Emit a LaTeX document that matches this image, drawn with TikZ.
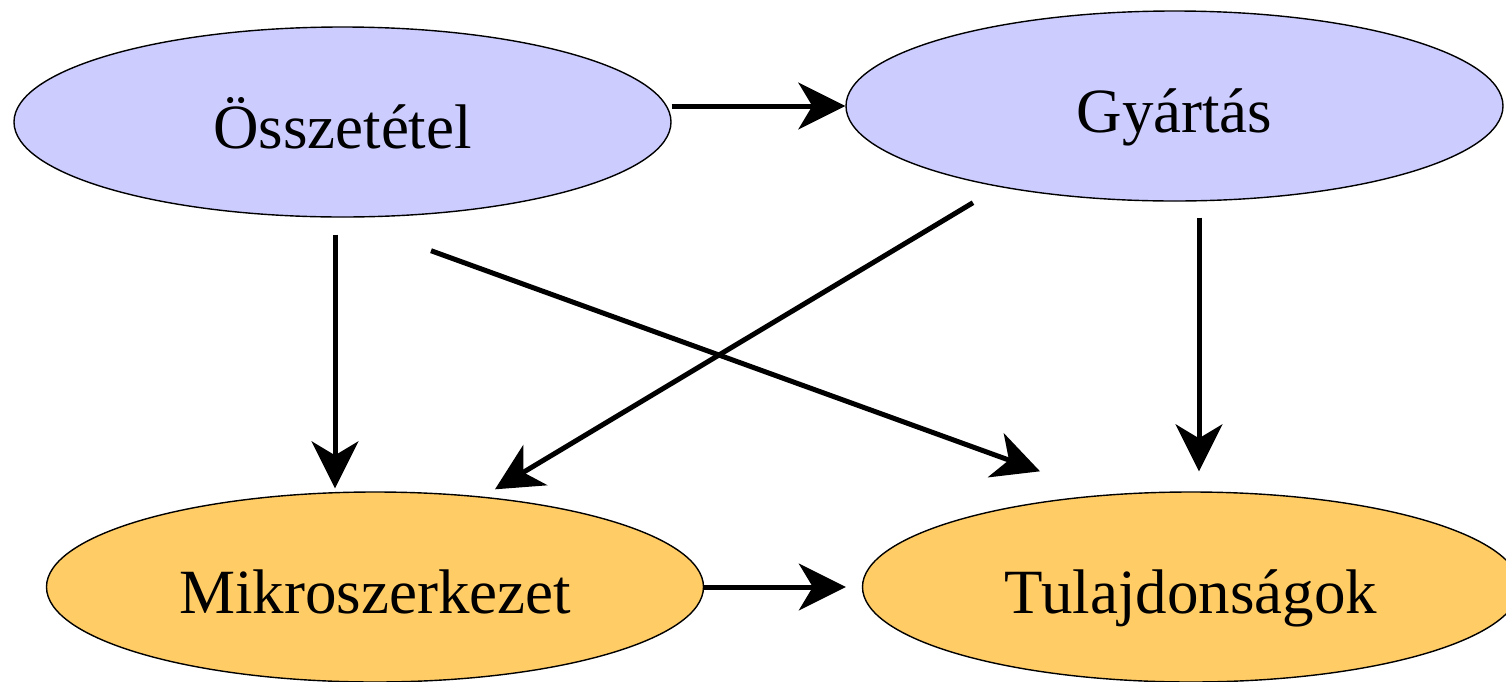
\documentclass[tikz,border=0pt]{standalone}
\usepackage{fontspec}
\setmainfont{Liberation Serif}
\usepackage{tikz}
\usetikzlibrary{arrows.meta,calc,shapes.geometric}
\definecolor{lilac}{RGB}{204,204,255}
\definecolor{peach}{RGB}{255,204,102}
\tikzstyle{stage}=[ellipse,draw,line width=0.7pt,inner sep=0pt,minimum width=328.5pt,minimum height=95pt,text height=26pt,text depth=0pt,font=\fontsize{31.5}{38}\selectfont]
\tikzstyle{arr}=[-{Stealth[length=23.5pt,width=23.5pt,inset=7pt]},line width=2.5pt]

\begin{document}
\begin{tikzpicture}[x=0.5pt,y=-0.5pt]
    \useasboundingbox (0,0) rectangle (1506,681);
    \node[stage,fill=lilac] (osz) at (342.5,122) {Összetétel};
    \node[stage,fill=lilac] (gyar) at (1174.5,106) {Gyártás};
    \node[stage,fill=peach] (mikro) at (375,587) {Mikroszerkezet};
    \node[stage,fill=peach] (tul) at (1191,587) {Tulajdonságok};
    \draw[arr] (osz.east |- gyar.west) -- (gyar.west);
    \draw[arr,shorten >=8pt] (mikro.east) -- (tul.west);
    \draw[arr] ($(osz.south)+(-7.5,17)$) -- ($(mikro.north)+(-40,-3)$);
    \draw[arr] ($(gyar.south)+(24.5,16)$) -- ($(tul.north)+(8,-20)$);
    \draw[arr] ($(osz.south)+(88.5,33)$) -- ($(tul.north)+(-151,-20)$);
    \draw[arr] ($(gyar.south)+(-201.5,1)$) -- ($(mikro.north)+(120,-2)$);
\end{tikzpicture}
\end{document}
